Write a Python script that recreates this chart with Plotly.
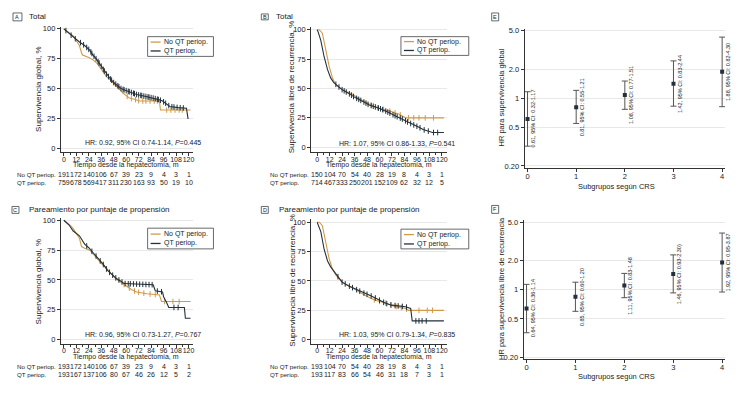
import numpy as np
import plotly.graph_objects as go

# page is offset by the browser's default 8px body margin
OX, OY = 8, 8
FW, FH = 742, 389
ORANGE = "#d09a48"
DARK = "#22313b"
AX = "#333333"
GRID = "#e8e8e8"
FONT = "Liberation Sans, Arial, sans-serif"

# ---------------- Kaplan-Meier data ----------------
A_no_t = [0, 3, 6, 9, 12, 15, 17, 18, 24, 28, 32, 36, 41, 45, 49, 53, 57, 60, 63, 68, 73, 80, 92, 93, 122]
A_no_s = [100, 98, 96, 94, 90, 86, 80, 78, 76, 74, 71, 66, 60, 57, 53, 50, 46, 44, 42, 41, 39.5, 39.5, 39.5, 32, 32]
A_qt_t = [0, 4, 9, 15, 20, 25, 28, 31, 35, 38, 41, 44, 48, 51, 55, 59, 64, 70, 78, 86, 92, 95, 99, 102, 110, 118, 119.5, 120]
A_qt_s = [100, 97, 93, 89, 86, 82, 78, 75, 70, 66, 62, 59, 55, 53, 50, 48.5, 47, 45, 43.5, 42, 40.5, 39.5, 37, 35, 34, 33.5, 25, 25]
A_no_c = [61, 65, 69, 72, 76, 79, 83, 87, 90, 99, 103, 107, 111, 114]
A_qt_c = [2, 7, 11, 16, 19, 22, 24, 26, 27, 29, 31, 33, 34, 36, 38, 39, 41, 43, 45, 46, 48, 50, 52, 53, 55,
          57, 58, 60, 62, 63, 65, 67, 68, 70, 72, 74, 75, 77, 79, 81, 82, 84, 86, 88, 90, 91, 93, 96, 98,
          101, 104, 106, 109, 112, 115]

B_no_t = [0, 2, 5, 8, 11.5, 14.7, 18, 24, 29, 34, 40, 47, 56, 62, 69, 79, 85, 122]
B_no_s = [100, 100, 97, 84, 69, 59, 53, 49, 47, 45, 41.5, 38, 34, 32.5, 31, 28, 25, 25]
B_qt_t = [0, 1, 3.5, 6.7, 10, 13, 16, 20, 24, 30, 37, 44, 50, 57, 63, 69, 75.5, 82, 88, 93, 98, 102, 106, 111, 122]
B_qt_s = [100, 98, 91, 77, 66, 59, 55, 52, 49, 46, 42, 39, 36, 34, 32, 29.5, 26.6, 24, 21, 19, 17, 15, 14, 12.5, 12.5]
B_no_c = [52, 58, 64, 70, 75, 80, 88, 93, 98, 104, 112]
B_qt_c = [18, 21, 24, 26, 28, 31, 33, 35, 38, 40, 42, 45, 47, 49, 52, 54, 56, 59, 61, 63, 66, 68, 70, 73,
          75, 77, 80, 82, 85, 87, 90, 93, 96, 99, 103, 107, 112, 116]

C_no_t = [0, 3, 6, 9, 12, 15, 17, 20, 25, 31, 36, 41, 46, 50, 55, 60, 65, 70, 80, 92, 94, 122]
C_no_s = [100, 98, 96, 93, 89.5, 85, 78, 76.5, 75, 69, 64, 60, 55, 51, 48, 45, 42, 40, 38.5, 37.5, 32, 32]
C_qt_t = [0, 5, 9, 15, 20, 24, 28, 33, 38, 42, 47, 51, 55, 58, 86, 88, 95, 96, 99, 101, 116, 117, 122]
C_qt_s = [100, 96, 91, 87, 80, 77, 73, 68, 63, 58, 54, 51, 49, 47, 46, 41, 40, 36, 31, 27, 27, 18, 18]
C_no_c = [58, 63, 68, 72, 77, 83, 88, 97, 105, 111]
C_qt_c = [22, 27, 31, 35, 38, 41, 44, 47, 50, 53, 56, 59, 62, 64, 67, 70, 73, 76, 79, 82, 85, 90, 94, 106, 110]

D_no_t = [0, 2, 5, 8, 11.5, 14.7, 18, 24, 30, 37, 44, 50, 56, 63, 72, 80, 85, 88, 122]
D_no_s = [100, 100, 97, 84, 69, 60, 55, 49, 46, 42, 39, 36, 33.5, 32, 29, 27.5, 26.6, 25, 25]
D_qt_t = [0, 1, 3.5, 6.7, 10, 13, 18, 24, 30, 37, 44, 50, 55, 60, 66, 72, 80, 85, 90, 91.5, 122]
D_qt_s = [100, 98, 92, 77, 67, 62, 56, 49, 46, 43, 40, 38, 36, 33.6, 31, 29.4, 28.5, 28, 26.6, 16, 16]
D_no_c = [55, 60, 66, 71, 76, 81, 86, 98, 106, 111]
D_qt_c = [20, 24, 27, 31, 34, 38, 41, 45, 48, 52, 56, 60, 64, 67, 71, 75, 78, 82, 86, 95, 98, 101, 105]

# ---------------- numbers at risk ----------------
risk_times = [0, 12, 24, 36, 48, 60, 72, 84, 96, 108, 120]
A_risk_no = [191, 172, 140, 106, 67, 39, 23, 9, 4, 3, 1]
A_risk_qt = [759, 678, 569, 417, 311, 230, 163, 93, 50, 19, 10]
B_risk_no = [150, 104, 70, 54, 40, 28, 19, 8, 4, 3, 1]
B_risk_qt = [714, 467, 333, 250, 201, 152, 109, 62, 32, 12, 5]
C_risk_no = [193, 172, 140, 106, 67, 39, 23, 9, 4, 3, 1]
C_risk_qt = [193, 167, 137, 106, 80, 67, 46, 26, 12, 5, 2]
D_risk_no = [193, 104, 70, 54, 40, 28, 19, 8, 4, 3, 1]
D_risk_qt = [193, 117, 83, 66, 54, 46, 31, 18, 7, 3, 1]

# ---------------- HR by CRS subgroup ----------------
crs = [0, 1, 2, 3, 4]
E_hr = [0.61, 0.81, 1.08, 1.42, 1.88]
E_lo = [0.32, 0.55, 0.77, 0.83, 0.82]
E_hi = [1.17, 1.21, 1.51, 2.44, 4.30]
E_lab = ["0.61, 95% CI: 0.32-1.17", "0.81, 95% CI: 0.55-1.21", "1.08, 95% CI: 0.77-1.51",
         "1.42, 95% CI: 0.83-2.44", "1.88, 95% CI: 0.82-4.30"]
F_hr = [0.64, 0.85, 1.11, 1.46, 1.92]
F_lo = [0.36, 0.60, 0.83, 0.93, 0.95]
F_hi = [1.14, 1.20, 1.48, 2.30, 3.87]
F_lab = ["0.64, 95% CI: 0.36-1.14", "0.85, 95% CI: 0.60-1.20", "1.11, 95% CI: 0.83-1.48",
         "1.46, 95% CI: 0.93-2.30)", "1.92, 95% CI: 0.95-3.87"]

km_ticks = [0, 12, 24, 36, 48, 60, 72, 84, 96, 108, 120]
km_yticks = [0, 25, 50, 75, 100]
hr_ticks = [0.2, 0.5, 1, 2, 5]
hr_ticktext = ["0.20", "0.5", "1", "2.0", "5.0"]


def px(x):
    return (x - OX) / FW


def py(y):
    return 1 - (y - OY) / FH


def dx(a, b):
    return [px(a), px(b)]


def dy(top, bottom):
    return [py(bottom), py(top)]


fig = go.Figure()


def km(ax, t, s, cens, color):
    xa, ya = ("x", "y") if ax == 1 else ("x%d" % ax, "y%d" % ax)
    fig.add_trace(go.Scatter(x=t, y=s, mode="lines", line=dict(color=color, width=1.1),
                             xaxis=xa, yaxis=ya, showlegend=False, hoverinfo="skip"))
    cy = np.interp(cens, t, s)
    fig.add_trace(go.Scatter(x=cens, y=cy, mode="markers",
                             marker=dict(symbol="line-ns", size=4, line=dict(color=color, width=1)),
                             xaxis=xa, yaxis=ya, showlegend=False, hoverinfo="skip"))


km(1, A_no_t, A_no_s, A_no_c, ORANGE)
km(1, A_qt_t, A_qt_s, A_qt_c, DARK)
km(2, B_no_t, B_no_s, B_no_c, ORANGE)
km(2, B_qt_t, B_qt_s, B_qt_c, DARK)
km(3, C_no_t, C_no_s, C_no_c, ORANGE)
km(3, C_qt_t, C_qt_s, C_qt_c, DARK)
km(4, D_no_t, D_no_s, D_no_c, ORANGE)
km(4, D_qt_t, D_qt_s, D_qt_c, DARK)


def hrplot(ax, hr, lo, hi):
    fig.add_trace(go.Scatter(
        x=crs, y=hr, mode="markers",
        marker=dict(symbol="square", size=4, color=DARK),
        error_y=dict(type="data", symmetric=False,
                     array=[h - m for h, m in zip(hi, hr)],
                     arrayminus=[m - l for m, l in zip(hr, lo)],
                     color="#555555", thickness=1, width=3),
        xaxis="x%d" % ax, yaxis="y%d" % ax, showlegend=False, hoverinfo="skip"))


hrplot(5, E_hr, E_lo, E_hi)
hrplot(6, F_hr, F_lo, F_hi)

tickfont = dict(family=FONT, size=7.5, color="#222")
xtickfont = dict(family=FONT, size=7, color="#222")

km_x = dict(tickvals=km_ticks, tickangle=0, ticks="outside", ticklen=3, tickcolor=AX, showline=True,
            linecolor=AX, linewidth=1, showgrid=False, zeroline=False, tickfont=xtickfont,
            ticklabelstandoff=-3,
            minor=dict(dtick=6, tick0=0, ticks="outside", ticklen=2, tickcolor=AX))
km_y = dict(tickvals=km_yticks, ticks="outside", ticklen=3, tickcolor=AX, showline=True, linecolor=AX,
            linewidth=1, showgrid=True, gridcolor=GRID, gridwidth=1, zeroline=False, tickfont=tickfont)
hr_x = dict(tickvals=crs, tickangle=0, ticks="outside", ticklen=3, tickcolor=AX, showline=True, linecolor=AX,
            linewidth=1, showgrid=False, zeroline=False, tickfont=tickfont, range=[-0.06, 4.06],
            ticklabelstandoff=-2)
hr_y = dict(type="log", tickvals=hr_ticks, ticktext=hr_ticktext, ticks="outside", ticklen=3, tickcolor=AX,
            showline=True, linecolor=AX, linewidth=1, showgrid=True, gridcolor=GRID, zeroline=False,
            tickfont=tickfont, range=[-0.72, 0.72])

fig.update_layout(
    width=FW, height=FH, margin=dict(l=0, r=0, t=0, b=0),
    paper_bgcolor="white", plot_bgcolor="white",
    font=dict(family=FONT, size=7.5, color="#222"),
    xaxis=dict(km_x, domain=dx(61, 193), range=[-2.88, 123.84], anchor="y"),
    yaxis=dict(km_y, domain=dy(25, 152), range=[-3.3, 101.7], anchor="x"),
    xaxis2=dict(km_x, domain=dx(312, 448), range=[-5.76, 124.8], anchor="y2"),
    yaxis2=dict(km_y, domain=dy(25, 152), range=[-4.2, 102.5], anchor="x2"),
    xaxis3=dict(km_x, domain=dx(61, 193), range=[-2.88, 123.84], anchor="y3"),
    yaxis3=dict(km_y, domain=dy(219, 346), range=[-3.3, 101.65], anchor="x3"),
    xaxis4=dict(km_x, domain=dx(312, 448), range=[-5.76, 124.8], anchor="y4"),
    yaxis4=dict(km_y, domain=dy(220, 346), range=[-3.36, 102.5], anchor="x4"),
    xaxis5=dict(hr_x, domain=dx(526, 727), anchor="y5"),
    yaxis5=dict(hr_y, domain=dy(27, 168), anchor="x5"),
    xaxis6=dict(hr_x, domain=dx(525, 727), anchor="y6"),
    yaxis6=dict(hr_y, domain=dy(221, 362), anchor="x6"),
)

ann = []
shapes = []


def text(x, y, s, size=7.5, xanchor="center", angle=0, color="#222", xref="paper", yref="paper", xshift=0):
    ann.append(dict(x=x, y=y, xref=xref, yref=yref, text=s, showarrow=False, xanchor=xanchor,
                    yanchor="middle", textangle=angle, xshift=xshift, borderpad=0,
                    font=dict(family=FONT, size=size, color=color)))


def panel_label(x0, x1, y0, y1, letter, title, tx):
    shapes.append(dict(type="rect", xref="paper", yref="paper", x0=px(x0), x1=px(x1), y0=py(y1), y1=py(y0),
                       line=dict(color="#444", width=0.8), fillcolor="white"))
    text(px((x0 + x1) / 2), py((y0 + y1) / 2), letter, size=5.5)
    if title:
        text(px(tx), py((y0 + y1) / 2), title, size=8, xanchor="left")


panel_label(13, 22, 11, 19, "A", "Total", 28)
panel_label(262, 269, 12, 18, "B", "Total", 276)
panel_label(12, 19, 207, 214, "C", "Pareamiento por puntaje de propensión", 28)
panel_label(262, 269, 207, 214, "D", "Pareamiento por puntaje de propensión", 279)
panel_label(493, 500, 11, 19, "E", None, 0)
panel_label(493, 500, 206, 214, "F", None, 0)


def legend(x0, x1, y0, y1, l1, l2):
    shapes.append(dict(type="rect", xref="paper", yref="paper", x0=px(x0), x1=px(x1), y0=py(y1), y1=py(y0),
                       line=dict(color="#444", width=0.8), fillcolor="white"))
    for yy, col, lab in [(l1, ORANGE, "No QT periop."), (l2, DARK, "QT periop.")]:
        shapes.append(dict(type="line", xref="paper", yref="paper", x0=px(x0 + 3), x1=px(x0 + 13),
                           y0=py(yy), y1=py(yy), line=dict(color=col, width=1.3)))
        text(px(x0 + 15), py(yy), lab, size=7, xanchor="left")


legend(148, 214, 35, 55, 40.5, 49.5)
legend(402, 470, 35, 54, 40, 49)
legend(148, 214, 229, 250, 235, 244.5)
legend(402, 470, 230, 250, 235.5, 245)

# HR texts
text(px(203), py(142), "HR: 0.92, 95% CI 0.74-1.14, <i>P</i>=0.445", size=7, xanchor="right")
text(px(457), py(143), "HR: 1.07, 95% CI 0.86-1.33, <i>P</i>=0.541", size=7, xanchor="right")
text(px(203), py(337), "HR: 0.96, 95% CI 0.73-1.27, <i>P</i>=0.767", size=7, xanchor="right")
text(px(457), py(337), "HR: 1.03, 95% CI 0.79-1.34, <i>P</i>=0.835", size=7, xanchor="right")

# axis titles
XT = "Tiempo desde la hepatectomía, m"
text(px(126), py(165.5), XT, size=7)
text(px(380), py(165.5), XT, size=7)
text(px(126), py(360), XT, size=7)
text(px(380), py(360), XT, size=7)
text(px(39), py(88), "Supervivencia global, %", size=8, angle=-90)
text(px(293), py(86), "Supervivencia libre de recurrencia, %", size=8, angle=-90)
text(px(39), py(283), "Supervivencia global, %", size=8, angle=-90)
text(px(293), py(282), "Supervivencia libre de recurrencia, %", size=8, angle=-90)
text(px(503), py(97), "HR para supervivencia global", size=7.5, angle=-90)
text(px(503), py(290), "HR para supervivencia libre de recurrencia", size=7.5, angle=-90)
text(px(618), py(187), "Subgrupos según CRS", size=7.5)
text(px(618), py(379), "Subgrupos según CRS", size=7.5)

# risk tables
for xa, rows in [("x", [(174.5, A_risk_no), (182.5, A_risk_qt)]),
                 ("x2", [(174.5, B_risk_no), (182.5, B_risk_qt)]),
                 ("x3", [(369.5, C_risk_no), (377.5, C_risk_qt)]),
                 ("x4", [(369.5, D_risk_no), (377.5, D_risk_qt)])]:
    for yy, vals in rows:
        for t, v in zip(risk_times, vals):
            text(t, py(yy), str(v), size=7, xref=xa)
for lx, y1, y2 in [(16, 174.5, 182.5), (270, 174.5, 182.5), (16, 369.5, 377.5), (270, 369.5, 377.5)]:
    text(px(lx), py(y1), "No QT periop.", size=6.2, xanchor="left")
    text(px(lx), py(y2), "QT periop.", size=6.2, xanchor="left")

# HR labels (rotated)
for ax, hrs, labs in [(5, E_hr, E_lab), (6, F_hr, F_lab)]:
    for c, h, lab in zip(crs, hrs, labs):
        text(c, np.log10(h), lab, size=5.5, angle=-90, xref="x%d" % ax, yref="y%d" % ax, xshift=6)

fig.update_layout(annotations=ann, shapes=shapes)
fig.write_html("out.html")
